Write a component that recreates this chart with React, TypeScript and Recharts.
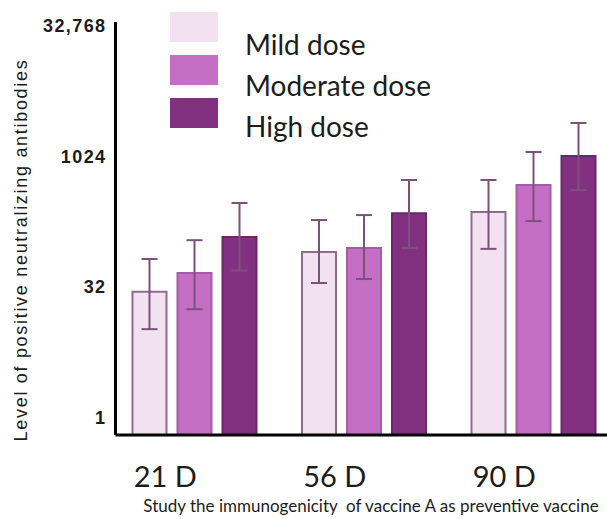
import React from 'react';
import { BarChart, Bar, XAxis, YAxis, ErrorBar, Legend, Label } from 'recharts';

const categories = ['21 D', '56 D', '90 D'];
const seriesNames = ['Mild dose', 'Moderate dose', 'High dose'];

const mildValues = [28.6, 82, 236];
const mildLower = [10.6, 36, 89];
const mildUpper = [68, 191, 552];

const moderateValues = [47, 91, 484];
const moderateLower = [18, 40, 186];
const moderateUpper = [112, 218, 1160];

const highValues = [122, 229, 1045];
const highLower = [50, 91, 422];
const highUpper = [300, 552, 2500];

const yTicks = [1, 32, 1024, 32768];
const yTickLabels = ['1', '32', '1024', '32,768'];

const yTitle = 'Level of positive neutralizing antibodies';
const xTitle = 'Study the immunogenicity  of vaccine A as preventive vaccine';

const fills = ['#f1e1f1', '#c46fc3', '#813180'];
const strokes = ['#8f6c8f', '#a65ca5', '#6b2869'];
const errColor = '#7b527b';

const data = categories.map((c, i) => ({
  name: c,
  mild: mildValues[i],
  mildErr: [mildValues[i] - mildLower[i], mildUpper[i] - mildValues[i]],
  moderate: moderateValues[i],
  moderateErr: [moderateValues[i] - moderateLower[i], moderateUpper[i] - moderateValues[i]],
  high: highValues[i],
  highErr: [highValues[i] - highLower[i], highUpper[i] - highValues[i]],
}));

const YTick = (props: any) => {
  const { x, y, payload } = props;
  const idx = yTicks.indexOf(payload.value);
  return (
    <text x={x} y={y} dy={6} textAnchor="end" fontFamily="Liberation Sans" fontWeight="bold" fontSize={18} letterSpacing={1.4} fill="#1c1c1c">
      {idx >= 0 ? yTickLabels[idx] : payload.value}
    </text>
  );
};

const XTick = (props: any) => {
  const { x, y, payload } = props;
  return (
    <text x={x} y={y} dx={-29} dy={44} textAnchor="middle" fontFamily="Lato" fontSize={29} fill="#1c1c1c">
      {payload.value}
    </text>
  );
};

const renderYLabel = () => (
  <text x={13} y={242} transform="rotate(-90 13 242)" textAnchor="middle" dominantBaseline="central" fontFamily="Liberation Sans" fontSize={18} letterSpacing={1.7} fill="#1c1c1c">
    {yTitle}
  </text>
);

const renderXLabel = () => (
  <text x={363} y={504} textAnchor="middle" fontFamily="Lato" fontSize={17} fill="#1c1c1c" style={{ whiteSpace: 'pre' }}>
    {xTitle}
  </text>
);

const renderLegend = () => (
  <div style={{ position: 'relative', width: 300, height: 135 }}>
    {seriesNames.map((n, i) => (
      <React.Fragment key={n}>
        <div style={{ position: 'absolute', left: 0, top: 4 + i * 43, width: 48, height: 30, background: fills[i] }} />
        <div style={{ position: 'absolute', left: 75, top: 36 + i * 41 - 17, height: 34, lineHeight: '34px', fontFamily: 'Lato', fontSize: 28, color: '#1c1c1c', whiteSpace: 'nowrap' }}>
          {n}
        </div>
      </React.Fragment>
    ))}
  </div>
);

export default function App() {
  return (
    <div style={{ position: 'absolute', left: 0, top: 0, width: 607, height: 519, overflow: 'hidden' }}>
      <div style={{ position: 'absolute', left: 8, top: 8 }}>
        <BarChart width={640} height={511} data={data} margin={{ top: 14, right: 0, bottom: 0, left: 0 }} barSize={34} barGap={11}>
          <XAxis dataKey="name" height={84} padding={{ left: -6, right: 30 }} axisLine={{ stroke: '#000', strokeWidth: 3 }} tickLine={false} tick={<XTick />} interval={0}>
            <Label content={renderXLabel} />
          </XAxis>
          <YAxis
            type="number"
            scale="log"
            domain={[0.641, 36370]}
            allowDataOverflow
            ticks={yTicks}
            interval={0}
            width={107.5}
            axisLine={{ stroke: '#000', strokeWidth: 3 }}
            tickLine={false}
            tickSize={0}
            tickMargin={9}
            tick={<YTick />}
          >
            <Label content={renderYLabel} />
          </YAxis>
          <Legend layout="vertical" align="center" verticalAlign="middle" wrapperStyle={{ top: 0, left: 162, width: 320, height: 135 }} content={renderLegend} />
          <Bar dataKey="mild" name={seriesNames[0]} fill={fills[0]} stroke={strokes[0]} strokeWidth={2} isAnimationActive={false}>
            <ErrorBar dataKey="mildErr" width={8} stroke={errColor} strokeWidth={2} isAnimationActive={false} />
          </Bar>
          <Bar dataKey="moderate" name={seriesNames[1]} fill={fills[1]} stroke={strokes[1]} strokeWidth={2} isAnimationActive={false}>
            <ErrorBar dataKey="moderateErr" width={8} stroke={errColor} strokeWidth={2} isAnimationActive={false} />
          </Bar>
          <Bar dataKey="high" name={seriesNames[2]} fill={fills[2]} stroke={strokes[2]} strokeWidth={2} isAnimationActive={false}>
            <ErrorBar dataKey="highErr" width={8} stroke={errColor} strokeWidth={2} isAnimationActive={false} />
          </Bar>
        </BarChart>
      </div>
    </div>
  );
}
